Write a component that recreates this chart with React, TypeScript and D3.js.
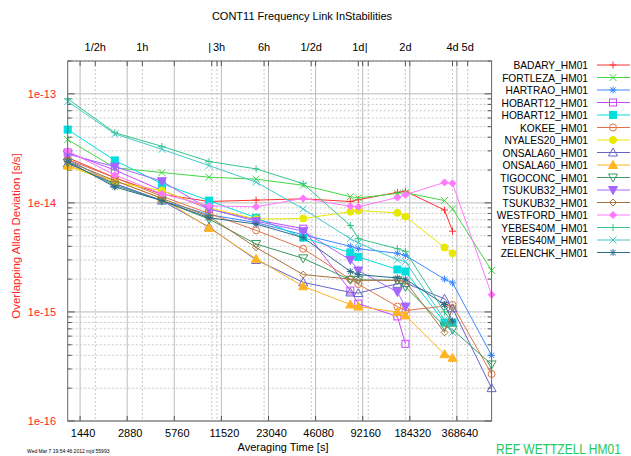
import React from 'react'
import * as d3 from 'd3'

const W = 631
const H = 456

// averaging times of the points [s]
const taus = [1200, 2400, 4800, 9600, 19200, 38400, 76800, 86400, 153600, 172800, 307200, 345600, 614400]

// bottom axis ticks
const bottomTicks = [1440, 2880, 5760, 11520, 23040, 46080, 92160, 184320, 368640]
// top axis ticks and labels
const topTicks = [1800, 3600, 10000, 10800, 21600, 43200, 86400, 100000, 172800, 345600, 432000]
const topLabels = ['1/2h', '1h', '|', '3h', '6h', '1/2d', '1d', '|', '2d', '4d', '5d']
const yDecades = [1e-16, 1e-15, 1e-14, 1e-13]
const yLabels = ['1e-16', '1e-15', '1e-14', '1e-13']

const badary = [2.6e-14, 1.7e-14, 1.2e-14, 1.03e-14, 1.06e-14, 1.09e-14, 1.03e-14, 1.07e-14, 1.25e-14, 1.28e-14, 8.6e-15, 5.5e-15, null]
const fortleza = [3.8e-14, 2.1e-14, 1.9e-14, 1.72e-14, 1.65e-14, 1.45e-14, 1.14e-14, 1.11e-14, 1.22e-14, 1.24e-14, 1.05e-14, 8.8e-15, 2.4e-15]
const hartrao = [2.5e-14, 1.5e-14, 1.05e-14, 7.8e-15, 6.6e-15, 5.1e-15, 4.0e-15, 3.8e-15, 3.45e-15, 3.3e-15, 2.0e-15, 1.85e-15, 4.0e-16]
const hobart12a = [2.9e-14, 2.0e-14, 1.3e-14, 8.8e-15, 7.0e-15, 5.8e-15, 1.57e-15, 1.19e-15, 9.1e-16, 5.1e-16, null, null, null]
const hobart12b = [4.7e-14, 2.45e-14, 1.5e-14, 1.05e-14, 7.3e-15, 4.8e-15, 3.5e-15, 3.2e-15, 2.45e-15, 2.35e-15, 8.0e-16, 8.0e-16, null]
const kokee = [2.5e-14, 1.7e-14, 1.15e-14, 8.0e-15, 5.6e-15, 3.8e-15, 2.0e-15, 1.8e-15, 1.12e-15, 1.03e-15, 1.13e-15, 1.16e-15, 2.7e-16]
const nyales20 = [2.15e-14, 1.55e-14, 1.3e-14, 9.0e-15, 7.1e-15, 7.2e-15, 8.3e-15, 8.5e-15, 8.1e-15, 7.5e-15, 3.9e-15, 3.45e-15, null]
const onsala60a = [2.3e-14, 1.5e-14, 1.05e-14, 6.0e-15, 3.0e-15, 1.87e-15, 1.51e-15, 1.49e-15, 1.81e-15, 1.84e-15, 1.32e-15, 1.08e-15, 2.0e-16]
const onsala60b = [2.2e-14, 1.6e-14, 1.1e-14, 5.9e-15, 3.07e-15, 1.72e-15, 1.17e-15, 1.12e-15, 1.0e-15, 9.3e-16, 4.1e-16, 3.8e-16, null]
const tigoconc = [2.35e-14, 1.45e-14, 1.05e-14, 7.1e-15, 4.2e-15, 3.1e-15, 1.97e-15, 1.97e-15, 1.95e-15, 1.7e-15, 7.4e-16, 6.9e-16, 3.3e-16]
const tsukub32a = [2.8e-14, 2.15e-14, 1.58e-14, 8.8e-15, 6.8e-15, 5.5e-15, 3.0e-15, 2.4e-15, 1.52e-15, 1.12e-15, null, null, null]
const tsukub32b = [2.4e-14, 1.6e-14, 1.1e-14, 7.5e-15, 3.9e-15, 2.2e-15, 2.0e-15, 1.95e-15, 1.95e-15, 1.9e-15, 6.5e-16, 1.1e-15, null]
const westford = [3.0e-14, 1.8e-14, 1.21e-14, 9.4e-15, 9.2e-15, 1.1e-14, 9.3e-15, 9.2e-15, 1.12e-14, 1.19e-14, 1.54e-14, 1.51e-14, 1.44e-15]
const yebes40a = [9.0e-14, 4.4e-14, 3.3e-14, 2.4e-14, 2.05e-14, 1.5e-14, 6.2e-15, 4.7e-15, 3.8e-15, 3.6e-15, 1.0e-15, 8.0e-16, null]
const yebes40b = [8.5e-14, 4.3e-14, 3.1e-14, 2.2e-14, 1.55e-14, 8.8e-15, 4.7e-15, 4.3e-15, 3.0e-15, 2.9e-15, 8.5e-16, 6.5e-16, null]
const zelenchk = [2.4e-14, 1.4e-14, 1.05e-14, 7.3e-15, 6.4e-15, 4.8e-15, 2.35e-15, 2.2e-15, 2.05e-15, 2.0e-15, 1.17e-15, 8.2e-16, null]

const names = ['BADARY_HM01', 'FORTLEZA_HM01', 'HARTRAO_HM01', 'HOBART12_HM01', 'HOBART12_HM01', 'KOKEE_HM01',
  'NYALES20_HM01', 'ONSALA60_HM01', 'ONSALA60_HM01', 'TIGOCONC_HM01', 'TSUKUB32_HM01', 'TSUKUB32_HM01',
  'WESTFORD_HM01', 'YEBES40M_HM01', 'YEBES40M_HM01', 'ZELENCHK_HM01']
const colors = ['#ff3030', '#44d844', '#3a88ff', '#c848ff', '#00dede', '#e07448', '#e8e800', '#6464c8',
  '#ffb420', '#3c9c64', '#a468ff', '#a8743c', '#ff78ff', '#34c488', '#44c8c8', '#2c6c88']
const markers = ['plus', 'cross', 'star', 'squareO', 'squareF', 'circleO', 'circleF', 'triO', 'triF',
  'triDownO', 'triDownF', 'diamondO', 'diamondF', 'plus', 'cross', 'star']
const values = [badary, fortleza, hartrao, hobart12a, hobart12b, kokee, nyales20, onsala60a, onsala60b,
  tigoconc, tsukub32a, tsukub32b, westford, yebes40a, yebes40b, zelenchk]

const FONT = 'Liberation Sans, Arial, sans-serif'
const RED = '#ff2424'

const Marker = ({ type, x, y, color }: { type: string, x: number, y: number, color: string }) => {
  const s = 3.5
  const sw = 1
  switch (type) {
    case 'plus':
      return <path d={`M${x - s},${y}H${x + s}M${x},${y - s}V${y + s}`} stroke={color} strokeWidth={sw} />
    case 'cross':
      return <path d={`M${x - s},${y - s}L${x + s},${y + s}M${x - s},${y + s}L${x + s},${y - s}`} stroke={color} strokeWidth={sw} />
    case 'star':
      return <path d={`M${x - s},${y}H${x + s}M${x},${y - s}V${y + s}M${x - 2.6},${y - 2.6}L${x + 2.6},${y + 2.6}M${x - 2.6},${y + 2.6}L${x + 2.6},${y - 2.6}`} stroke={color} strokeWidth={sw} />
    case 'squareO':
    case 'squareF':
      return <rect x={x - s} y={y - s} width={2 * s} height={2 * s} fill={type === 'squareF' ? color : 'none'} stroke={color} strokeWidth={sw} />
    case 'circleO':
    case 'circleF':
      return <circle cx={x} cy={y} r={s} fill={type === 'circleF' ? color : 'none'} stroke={color} strokeWidth={sw} />
    case 'triO':
    case 'triF':
      return <path d={`M${x},${y - s - 1}L${x + s + 1},${y + s}L${x - s - 1},${y + s}Z`} fill={type === 'triF' ? color : 'none'} stroke={color} strokeWidth={sw} />
    case 'triDownO':
    case 'triDownF':
      return <path d={`M${x},${y + s + 1}L${x + s + 1},${y - s}L${x - s - 1},${y - s}Z`} fill={type === 'triDownF' ? color : 'none'} stroke={color} strokeWidth={sw} />
    default:
      return <path d={`M${x},${y - s}L${x + s},${y}L${x},${y + s}L${x - s},${y}Z`} fill={type === 'diamondF' ? color : 'none'} stroke={color} strokeWidth={sw} />
  }
}

export default function App() {
  const left = 67.7, right = 491.6, top = 61, bottom = 421
  const x = d3.scaleLog().domain([1200, 614400]).range([left, right])
  const y = d3.scaleLog().domain([1e-16, 2e-13]).range([bottom, top])

  const minors: number[] = []
  yDecades.forEach((d) => {
    for (let k = 2; k <= 9; k++) if (d * k < 2e-13) minors.push(d * k)
  })
  minors.push(2e-13)

  const line = d3.line<[number, number | null]>()
    .defined((d) => d[1] != null)
    .x((d) => x(d[0]))
    .y((d) => y(d[1] as number))

  return (
    <svg width={W} height={H} style={{ position: 'absolute', left: 0, top: 0, background: '#fff' }} fontFamily={FONT}>
      <rect width={W} height={H} fill="#fff" />
      <text x={302} y={20} textAnchor="middle" fontSize={11} fill="#000">CONT11 Frequency Link InStabilities</text>

      {/* grid */}
      {minors.map((v, i) => (
        <line key={'hm' + i} x1={left} x2={right} y1={y(v)} y2={y(v)} stroke="#c8c8c8" strokeDasharray="2,2" />
      ))}
      {yDecades.map((v, i) => (
        <line key={'hd' + i} x1={left} x2={right} y1={y(v)} y2={y(v)} stroke="#bcbcbc" />
      ))}
      {topTicks.map((v, i) => (
        <line key={'vt' + i} x1={x(v)} x2={x(v)} y1={top} y2={bottom} stroke="#c8c8c8" strokeDasharray="2,2" />
      ))}
      {bottomTicks.map((v, i) => (
        <line key={'vb' + i} x1={x(v)} x2={x(v)} y1={top} y2={bottom} stroke="#bcbcbc" />
      ))}

      {/* ticks */}
      {topTicks.map((v, i) => (
        <line key={'tt' + i} x1={x(v)} x2={x(v)} y1={top} y2={top + 5} stroke="#555" />
      ))}
      {bottomTicks.map((v, i) => (
        <g key={'bt' + i}>
          <line x1={x(v)} x2={x(v)} y1={bottom} y2={bottom - 5} stroke="#555" />
          <line x1={x(v)} x2={x(v)} y1={top} y2={top + 5} stroke="#555" />
        </g>
      ))}
      {minors.map((v, i) => (
        <g key={'mt' + i}>
          <line x1={left} x2={left + 4} y1={y(v)} y2={y(v)} stroke="#555" />
          <line x1={right} x2={right - 4} y1={y(v)} y2={y(v)} stroke="#555" />
        </g>
      ))}
      {yDecades.map((v, i) => (
        <g key={'dt' + i}>
          <line x1={left} x2={left + 7} y1={y(v)} y2={y(v)} stroke="#555" />
          <line x1={right} x2={right - 7} y1={y(v)} y2={y(v)} stroke="#555" />
        </g>
      ))}

      {/* series */}
      {values.map((vals, si) => {
        const pts = taus.map((t, i) => [t, vals[i]] as [number, number | null])
        return (
          <g key={'s' + si}>
            <path d={line(pts) || ''} fill="none" stroke={colors[si]} strokeWidth={1} />
            {pts.filter((p) => p[1] != null).map((p, i) => (
              <Marker key={i} type={markers[si]} x={x(p[0])} y={y(p[1] as number)} color={colors[si]} />
            ))}
          </g>
        )
      })}

      <rect x={left} y={top} width={right - left} height={bottom - top} fill="none" stroke="#666" />

      {/* axis labels */}
      {yDecades.map((v, i) => (
        <text key={'yl' + i} x={56} y={y(v) + 4} textAnchor="end" fontSize={11} fill={RED}>{yLabels[i]}</text>
      ))}
      <text transform="translate(20,236) rotate(-90)" textAnchor="middle" fontSize={11.5} fill={RED}>Overlapping Allan Deviation [s/s]</text>
      {bottomTicks.map((v, i) => (
        <text key={'xl' + i} x={x(v) + 3} y={437} textAnchor="middle" fontSize={11} fill="#000">{v}</text>
      ))}
      {topTicks.map((v, i) => (
        <text key={'tl' + i} x={x(v) + (topLabels[i] === '|' ? -2 : topLabels[i] === '3h' ? 2 : 0)} y={51} textAnchor="middle" fontSize={11} fill="#000">{topLabels[i]}</text>
      ))}
      <text x={283} y={451} textAnchor="middle" fontSize={11} fill="#000">Averaging Time [s]</text>
      <text x={27} y={453} fontSize={5} fill="#000">Wed Mar 7 19:54:46 2012 mjd 55993</text>
      <text transform="translate(496,454) scale(0.8,1)" fontSize={15} fill="#22c860">REF WETTZELL HM01</text>

      {/* legend */}
      {names.map((n, i) => {
        const ly = 65 + i * 12.5
        return (
          <g key={'lg' + i}>
            <text x={588} y={ly + 4} textAnchor="end" fontSize={10.2} fill="#000">{n}</text>
            <line x1={597} x2={630} y1={ly} y2={ly} stroke={colors[i]} />
            <Marker type={markers[i]} x={613} y={ly} color={colors[i]} />
          </g>
        )
      })}
    </svg>
  )
}
